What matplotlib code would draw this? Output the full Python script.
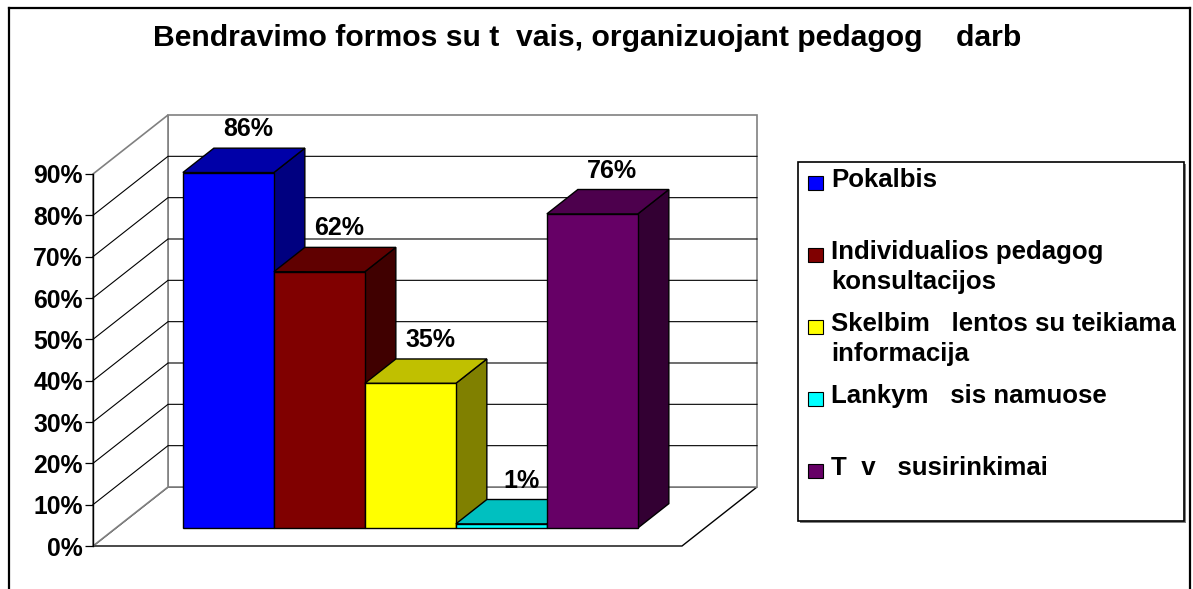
import matplotlib
matplotlib.use("Agg")
import matplotlib.pyplot as plt
from matplotlib.patches import Polygon, Rectangle
from matplotlib.lines import Line2D
from matplotlib.ticker import PercentFormatter

plt.rcParams['font.family'] = ['Liberation Sans', 'DejaVu Sans']
plt.rcParams['font.weight'] = 'bold'

# Data
title = "Bendravimo formos su t  vais, organizuojant pedagog    darb"
series = ["Pokalbis",
          "Individualios pedagog\nkonsultacijos",
          "Skelbim   lentos su teikiama\ninformacija",
          "Lankym   sis namuose",
          "T  v   susirinkimai"]
values = [0.86, 0.62, 0.35, 0.01, 0.76]
front_colors = ["#0000FF", "#800000", "#FFFF00", "#00FFFF", "#660066"]
top_colors = ["#0000A8", "#600000", "#C0C000", "#00C0C0", "#4D004D"]
side_colors = ["#000080", "#400000", "#808000", "#008080", "#330033"]
y_ticks = [0, 0.1, 0.2, 0.3, 0.4, 0.5, 0.6, 0.7, 0.8, 0.9]

W, H = 1193, 589
fig = plt.figure(figsize=(W / 100, H / 100), dpi=100)


def fx(px):
    return px / W


def fy(py):
    return 1 - py / H


# front plane of the 3d box
ax = fig.add_axes([fx(93), fy(546), fx(682) - fx(93), fy(174) - fy(546)])
ax.set_xlim(0, 1)
ax.set_ylim(0, 0.9)

# oblique depth (one unit of depth, in data units)
KX = 75 / 589
KY = 59 / 413.3


def P(x, y, d):
    return (x + d * KX, y + d * KY)


def face(pts, fc, ec, lw, z):
    ax.add_patch(Polygon(pts, closed=True, fc=fc, ec=ec, lw=lw, zorder=z,
                         clip_on=False, joinstyle='miter'))


top = y_ticks[-1]
# floor, back wall, side wall
face([P(0, 0, 0), P(1, 0, 0), P(1, 0, 1), P(0, 0, 1)], 'white', 'black', 1.0, 1)
face([P(0, 0, 1), P(1, 0, 1), P(1, top, 1), P(0, top, 1)], 'white', '#808080', 1.2, 1.1)
face([P(0, 0, 0), P(0, 0, 1), P(0, top, 1), P(0, top, 0)], 'white', '#808080', 1.2, 1.2)

# gridlines
for t in y_ticks[1:-1]:
    pts = [P(0, t, 0), P(0, t, 1), P(1, t, 1)]
    ax.plot([p[0] for p in pts], [p[1] for p in pts], color='black', lw=0.8,
            zorder=1.5, clip_on=False)

# axis
for s in ['top', 'right', 'bottom']:
    ax.spines[s].set_visible(False)
ax.spines['left'].set_color('black')
ax.spines['left'].set_linewidth(1.0)
ax.spines['left'].set_zorder(2)
ax.set_xticks([])
ax.set_yticks(y_ticks)
ax.yaxis.set_major_formatter(PercentFormatter(1, decimals=0))
ax.tick_params(axis='y', direction='out', length=5.76, width=0.9, pad=1.5,
               labelsize=17.8, colors='black')
ax.patch.set_visible(False)

# bars
n = len(values)
w = 0.1545
d1, d2 = 0.305, 0.718
for i, v in enumerate(values):
    x0 = 0.5 - n * w / 2 + i * w
    x1 = x0 + w
    z = 3 + i * 0.1
    face([P(x1, 0, d1), P(x1, 0, d2), P(x1, v, d2), P(x1, v, d1)], side_colors[i], 'black', 1.0, z)
    face([P(x0, v, d1), P(x1, v, d1), P(x1, v, d2), P(x0, v, d2)], top_colors[i], 'black', 1.0, z + 0.01)
    face([P(x0, 0, d1), P(x1, 0, d1), P(x1, v, d1), P(x0, v, d1)], front_colors[i], 'black', 1.0, z + 0.02)
    xc = (x0 + x1) / 2 + (d1 + d2) / 2 * KX
    ax.annotate(f"{v:.0%}", xy=(xc, v + d2 * KY), xytext=(3.0, 8.6),
                textcoords='offset points', ha='center', va='baseline',
                fontsize=18, annotation_clip=False, zorder=10)

# title
fig.text(fx(587), fy(46), title, ha='center', va='baseline', fontsize=21.7)

# legend
lx0, ly0, lx1, ly1 = 798, 162, 1184, 521
fig.add_artist(Rectangle((fx(lx0 + 2), fy(ly1 + 2)), fx(lx1) - fx(lx0), fy(ly0) - fy(ly1),
                         transform=fig.transFigure, fc='#808080', ec='none'))
fig.add_artist(Rectangle((fx(lx0), fy(ly1)), fx(lx1) - fx(lx0), fy(ly0) - fy(ly1),
                         transform=fig.transFigure, fc='white', ec='black', lw=1.2))
for i, lab in enumerate(series):
    base = 187 + i * 72
    fig.add_artist(Rectangle((fx(808), fy(base + 3)), fx(15), 14 / H,
                             transform=fig.transFigure, fc=front_colors[i],
                             ec='black', lw=0.8))
    for j, line in enumerate(lab.split("\n")):
        fig.text(fx(831), fy(base + 30 * j), line, va='baseline', ha='left', fontsize=18.6)

# outer chart border
frame = dict(color='black', lw=1.6, transform=fig.transFigure)
fig.add_artist(Line2D([fx(9), fx(9)], [fy(8), 0], **frame))
fig.add_artist(Line2D([fx(9), fx(1190)], [fy(8), fy(8)], **frame))
fig.add_artist(Line2D([fx(1190), fx(1190)], [fy(8), 0], **frame))

fig.savefig("out.png", dpi=100, facecolor='white')
